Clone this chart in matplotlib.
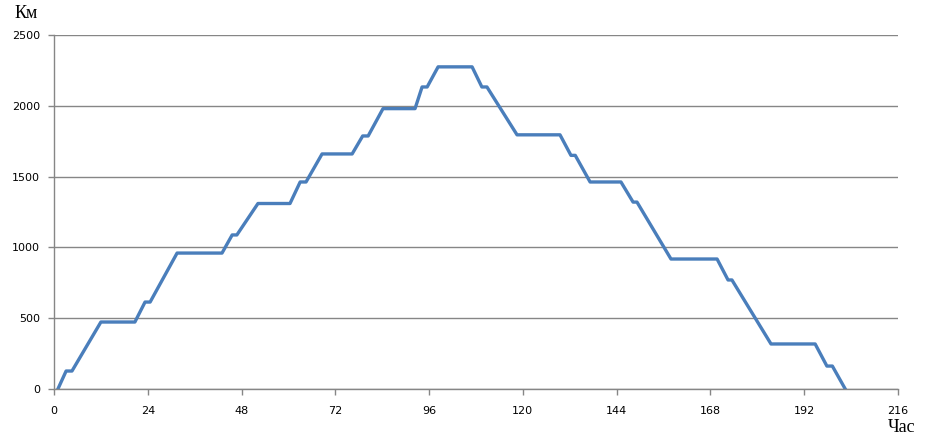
import matplotlib
matplotlib.use("Agg")
import matplotlib.pyplot as plt

# breakpoints of the route: hour -> distance, km
hours = [1, 3.1, 4.6, 12, 20.7, 23.3, 24.6, 31.5, 43, 45.6, 46.8, 52.2, 60.4, 63, 64.5,
         68.6, 76.3, 79, 80.4, 84.2, 92.4, 94.2, 95.5, 98.3, 107, 109.5, 110.8, 118.5,
         129.5, 132.3, 133.4, 137.2, 145.1, 148.2, 149.2, 157.9, 169.7, 172.5, 173.5,
         183.5, 194.8, 197.8, 199.2, 202.5]
km = [0, 127, 127, 473, 473, 614, 614, 960, 960, 1088, 1088, 1310, 1310, 1462, 1462,
      1660, 1660, 1787, 1787, 1980, 1980, 2133, 2133, 2275, 2275, 2133, 2133, 1795,
      1795, 1650, 1650, 1462, 1462, 1320, 1320, 918, 918, 770, 770,
      318, 318, 162, 162, 0]

xticks = list(range(0, 217, 24))
yticks = list(range(0, 2501, 500))

fig = plt.figure(figsize=(9.27, 4.45), dpi=100)
ax = fig.add_axes([54/927, 1 - 389/445, (898-54)/927, (389-35)/445])

ax.plot(hours, km, color="#4a7ebb", lw=2.4, solid_joinstyle="round")

ax.set_xlim(0, 216)
ax.set_ylim(0, 2500)
ax.set_xticks(xticks)
ax.set_yticks(yticks)
ax.grid(axis="y", color="#868686", lw=1)
ax.set_axisbelow(True)
for s in ["top", "right"]:
    ax.spines[s].set_visible(False)
for s in ["left", "bottom"]:
    ax.spines[s].set_color("#868686")
    ax.spines[s].set_linewidth(1)
ax.tick_params(colors="#868686", labelcolor="black", labelsize=8, length=4, width=1)
ax.tick_params(axis="x", pad=8)
ax.tick_params(axis="y", pad=6)

fig.text(15/927, 1 - 14/445, "Км", family="Liberation Serif", fontsize=13, va="center", ha="left")
fig.text(888/927, 1 - 428/445, "Час", family="Liberation Serif", fontsize=13, va="center", ha="left")

plt.savefig("out.png", dpi=100)
